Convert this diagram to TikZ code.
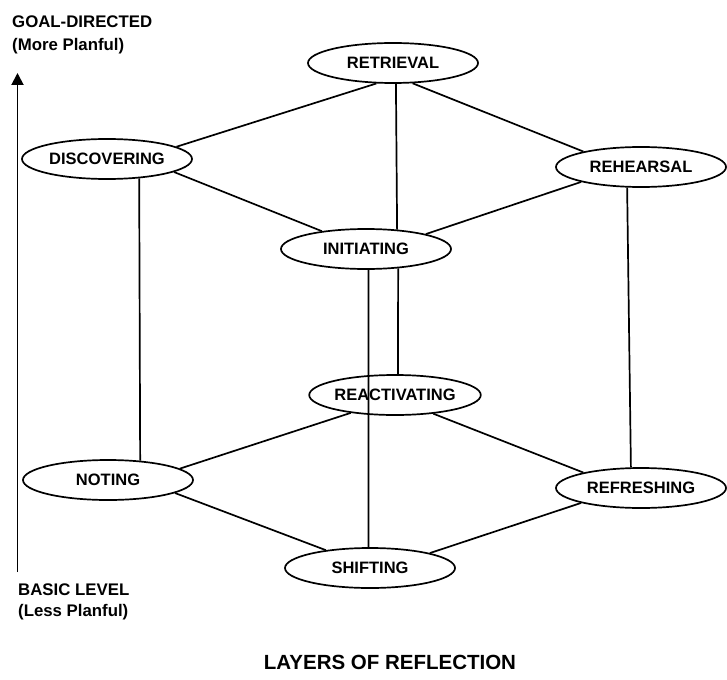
\documentclass[tikz,border=0pt]{standalone}
\usepackage{fontspec}
\setmainfont{Liberation Sans}
\usetikzlibrary{shapes.geometric,arrows.meta}
\tikzset{
  layer/.style={ellipse,draw,line width=1.7pt,minimum width=170pt,minimum height=40pt,inner sep=0pt,
    font=\fontsize{16.5}{19}\selectfont\bfseries},
  link/.style={line width=1.7pt},
  sidelabel/.style={anchor=base west,inner sep=0pt,font=\fontsize{16.8}{20}\selectfont\bfseries},
  titlelabel/.style={anchor=base,inner sep=0pt,font=\fontsize{20.5}{24}\selectfont\bfseries}
}
\begin{document}
\begin{tikzpicture}[x=1pt,y=-1pt]
\useasboundingbox (0,0) rectangle (727,679);
% layers
\node[layer] (ret) at (393,63) {RETRIEVAL};
\node[layer] (dis) at (107,159) {DISCOVERING};
\node[layer] (reh) at (641,167) {REHEARSAL};
\node[layer] (ini) at (366,249) {INITIATING};
\node[layer] (rea) at (395,395) {REACTIVATING};
\node[layer] (not) at (108,480) {NOTING};
\node[layer] (ref) at (641,488) {REFRESHING};
\node[layer] (shi) at (370,568) {SHIFTING};
% connectors
\draw[link] (ret.231) -- (dis.10);
\draw[link] (ret.314) -- (reh.165.7);
\draw[link] (ret.278.5) -- (ini.32);
\draw[link] (dis.349) -- (ini.158);
\draw[link] (reh.194.3) -- (ini.14);
\draw[link] (dis.329.4) -- (not.31.5);
\draw[link] (reh.236.7) -- (ref.116.7);
\draw[link] (ini.329) -- (rea.82.9);
\draw[link] (ini.277.1) -- (shi.94.3);
\draw[link] (rea.202.6) -- (not.9.4);
\draw[link] (rea.334.7) -- (ref.165.7);
\draw[link] (not.349.4) -- (shi.158);
\draw[link] (ref.194.3) -- (shi.14.3);
% axis
\coordinate (abot) at (17.5,572);
\coordinate (atop) at (17.5,73);
\draw[line width=1.9pt,-{Triangle[width=12pt,length=12pt]}] (abot) -- (atop);
\node[sidelabel] (goal) at (12,28) {GOAL-DIRECTED};
\node[sidelabel] (more) at (12,51) {(More Planful)};
\node[sidelabel] (basic) at (18,595) {BASIC LEVEL};
\node[sidelabel] (less) at (18,616) {(Less Planful)};
\node[titlelabel] (title) at (390,669) {LAYERS OF REFLECTION};
\end{tikzpicture}
\end{document}
